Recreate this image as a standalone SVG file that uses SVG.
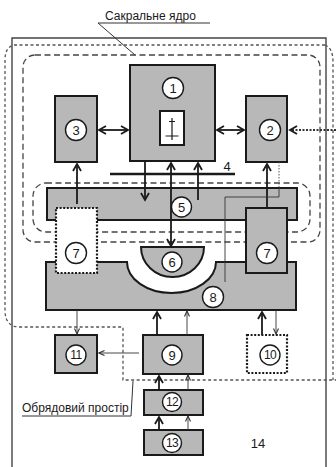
<svg xmlns="http://www.w3.org/2000/svg" width="336" height="467" viewBox="0 0 336 467">
<style>
.box{fill:#b8b8b8;stroke:#1a1a1a;stroke-width:2}
.wbox{fill:#fff;stroke:#1a1a1a;stroke-width:2.2;stroke-dasharray:2 1.6}
.c{fill:#fff;stroke:#1a1a1a;stroke-width:1.4}
.n{font-family:"Liberation Sans",Arial,sans-serif;font-size:13px;fill:#1a1a1a;text-anchor:middle}
.n2{font-size:12px;letter-spacing:-0.6px}
.lbl{font-family:"Liberation Sans",Arial,sans-serif;font-size:12px;fill:#1a1a1a}
.dash{fill:none;stroke:#444;stroke-width:1.3;stroke-dasharray:6 3.5}
.dot{fill:none;stroke:#555;stroke-width:1.3;stroke-dasharray:3 2.5}
.thick{fill:none;stroke:#1a1a1a;stroke-width:1.8}
.thin{fill:none;stroke:#333;stroke-width:0.9}
</style>
<defs>
<marker id="ah" markerUnits="userSpaceOnUse" markerWidth="10" markerHeight="10" refX="8" refY="5" orient="auto-start-reverse" viewBox="0 0 10 10">
<path d="M1,1 L8,5 L1,9" fill="none" stroke="#1a1a1a" stroke-width="1.8"/>
</marker>
<marker id="as" markerUnits="userSpaceOnUse" markerWidth="8" markerHeight="8" refX="6.5" refY="4" orient="auto-start-reverse" viewBox="0 0 8 8">
<path d="M1,1.5 L6.5,4 L1,6.5" fill="none" stroke="#333" stroke-width="1.1"/>
</marker>
</defs>

<g id="frames">
<path d="M12,470 L12,38 L326,38 L326,470" fill="none" stroke="#444" stroke-width="1.4"/>
<path class="dot" d="M325,45 L14,45 Q5,47 5,60 L5,310 Q5,327 20,327 L123,327 L123,380 L336,380"/>
<path class="dot" d="M325,45 Q333,48 333,62 L333,380"/>
<rect class="dash" x="23" y="55" width="297" height="187" rx="12"/>
<rect class="dash" x="33" y="183" width="277" height="49" rx="13"/>
</g>

<g id="title">
<text class="lbl" x="105" y="19.5">Сакральне ядро</text>
<path d="M98,23 L210,23 M98,23 L135,55" fill="none" stroke="#333" stroke-width="1"/>
</g>
<g id="ritual">
<text class="lbl" x="22" y="412">Обрядовий простір</text>
<path d="M22,416 L131,416 L133,381" fill="none" stroke="#333" stroke-width="1"/>
</g>

<g id="n4">
<line x1="110" y1="174" x2="235" y2="174" stroke="#1a1a1a" stroke-width="2.6"/>
<text class="n" x="227" y="171">4</text>
</g>

<g id="n5"><rect class="box" x="47" y="188" width="250" height="32"/></g>
<g id="n8"><path class="box" d="M46,262 L127,262 A44.5,31 0 0 0 216,262 L296,262 L296,310 L46,310 Z"/></g>
<g id="n6"><path class="box" d="M141,247 L204,247 A31.5,30 0 0 1 141,247 Z"/></g>
<g id="n1">
<rect class="box" x="130" y="65" width="85" height="96"/>
<rect x="160" y="111" width="24" height="34" fill="#fff" stroke="#1a1a1a" stroke-width="2"/>
<path d="M172,118 L172,140 M169,121.5 L175,121.5 M165.5,136 L178.5,136" stroke="#1a1a1a" stroke-width="1.2" fill="none"/>
</g>
<g id="n3"><rect class="box" x="55" y="96" width="42" height="66"/></g>
<g id="n2"><rect class="box" x="246" y="96" width="41" height="66"/></g>
<g id="n7a"><rect class="wbox" x="56" y="208" width="41" height="65"/></g>
<g id="n7b"><rect class="box" x="246" y="208" width="41" height="65"/></g>
<g id="n11"><rect class="box" x="55" y="335" width="42" height="38"/></g>
<g id="n9"><rect class="box" x="143" y="335" width="60" height="39"/></g>
<g id="n10"><rect class="wbox" x="247" y="335" width="40" height="38"/></g>
<g id="n12"><rect class="box" x="144" y="390" width="59" height="25"/></g>
<g id="n13"><rect class="box" x="144" y="430" width="59" height="25"/></g>

<g id="connectors">
<line class="thick" x1="99" y1="130" x2="128" y2="130" marker-start="url(#ah)" marker-end="url(#ah)"/>
<line class="thick" x1="217" y1="130" x2="244" y2="130" marker-start="url(#ah)" marker-end="url(#ah)"/>
<line x1="336" y1="130" x2="290" y2="130" stroke="#333" stroke-width="1.8" stroke-dasharray="2 1.5" marker-end="url(#ah)"/>
<line class="thick" x1="145" y1="161" x2="145" y2="200" marker-end="url(#ah)"/>
<line class="thick" x1="171" y1="163" x2="171" y2="246" marker-start="url(#ah)" marker-end="url(#ah)"/>
<line class="thick" x1="198" y1="200" x2="198" y2="163" marker-end="url(#ah)"/>
<line class="thick" x1="77" y1="204" x2="77" y2="164" marker-end="url(#ah)"/>
<line class="thick" x1="267" y1="208" x2="267" y2="164" marker-end="url(#ah)"/>
<path d="M279,162 L279,188" fill="none" stroke="#555" stroke-width="1" stroke-dasharray="1.5 1.5"/>
<path class="thin" d="M279,188 L279,197 L225,197 L225,282"/>
<line class="thin" x1="77" y1="310" x2="77" y2="334" marker-end="url(#as)"/>
<line class="thick" x1="157" y1="335" x2="157" y2="312" marker-end="url(#ah)"/>
<line class="thin" x1="187" y1="335" x2="187" y2="311" marker-end="url(#as)"/>
<line class="thick" x1="262" y1="335" x2="262" y2="312" marker-end="url(#ah)"/>
<line class="thin" x1="276" y1="310" x2="276" y2="334" marker-end="url(#as)"/>
<line class="thin" x1="139" y1="353" x2="99" y2="353" marker-end="url(#as)"/>
<line class="thick" x1="159" y1="390" x2="159" y2="376" marker-end="url(#ah)"/>
<line class="thin" x1="188" y1="390" x2="188" y2="375" marker-end="url(#as)"/>
<line class="thick" x1="159" y1="430" x2="159" y2="417" marker-end="url(#ah)"/>
<line class="thin" x1="188" y1="430" x2="188" y2="416" marker-end="url(#as)"/>
</g>

<g id="labels">
<circle class="c" cx="173" cy="88" r="10.5"/><text class="n" x="173" y="92.5">1</text>
<circle class="c" cx="270" cy="130" r="10.5"/><text class="n" x="270" y="134.5">2</text>
<circle class="c" cx="76" cy="130" r="10.5"/><text class="n" x="76" y="134.5">3</text>
<circle class="c" cx="181.5" cy="207" r="10"/><text class="n" x="181.5" y="211.5">5</text>
<circle class="c" cx="172" cy="262" r="10"/><text class="n" x="172" y="266.5">6</text>
<circle class="c" cx="76" cy="253" r="10.5"/><text class="n" x="76" y="257.5">7</text>
<circle class="c" cx="267" cy="253" r="10.5"/><text class="n" x="267" y="257.5">7</text>
<circle class="c" cx="213" cy="297" r="10.5"/><text class="n" x="213" y="301.5">8</text>
<circle class="c" cx="172" cy="355" r="10"/><text class="n" x="172" y="359.5">9</text>
<circle class="c" cx="270" cy="355" r="10"/><text class="n n2" x="270" y="359">10</text>
<circle class="c" cx="76" cy="355" r="10"/><text class="n n2" x="76" y="359">11</text>
<circle class="c" cx="172" cy="402" r="9.5"/><text class="n n2" x="172" y="406">12</text>
<circle class="c" cx="172" cy="443" r="9.5"/><text class="n n2" x="172" y="447">13</text>
<text class="n" x="258" y="447.5">14</text>
</g>
</svg>
